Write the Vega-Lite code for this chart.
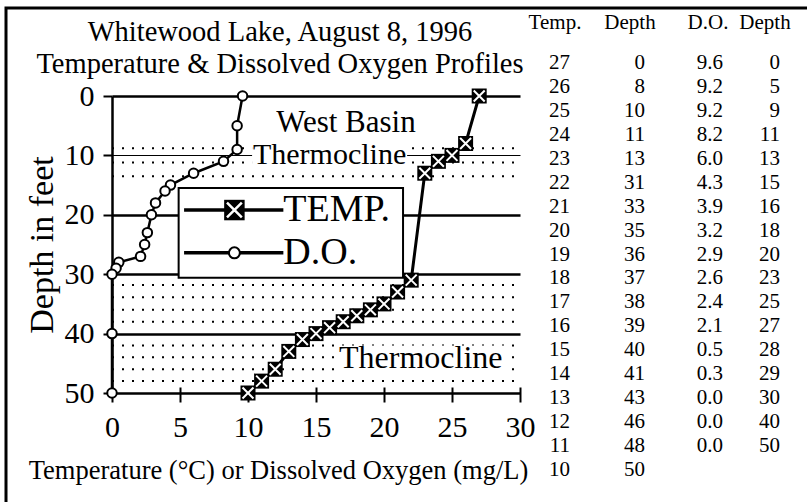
{
  "$schema": "https://vega.github.io/schema/vega-lite/v6.json",
  "width": 811,
  "height": 504,
  "autosize": {"type": "none"},
  "padding": {"left": 6, "top": 8, "right": -10, "bottom": -10},
  "background": "white",
  "config": {
    "view": {"stroke": "black", "strokeWidth": 3},
    "font": "Liberation Serif",
    "text": {"font": "Liberation Serif", "color": "black"},
    "axis": {"labelFont": "Liberation Serif", "titleFont": "Liberation Serif", "labelColor": "black", "titleColor": "black", "titleFontWeight": "normal"},
    "title": {"font": "Liberation Serif", "color": "black", "fontWeight": "normal"}
  },
  "title": {
    "text": ["Whitewood Lake, August 8, 1996", "Temperature & Dissolved Oxygen Profiles"],
    "anchor": "start", "align": "center", "frame": "group", "dx": 274, "offset": 0,
    "baseline": "top", "dy": 70, "fontSize": 28.5, "lineHeight": 32
  },
  "datasets": {
    "temp": [
      {"temp": 27, "depth": 0}, {"temp": 26, "depth": 8}, {"temp": 25, "depth": 10},
      {"temp": 24, "depth": 11}, {"temp": 23, "depth": 13}, {"temp": 22, "depth": 31},
      {"temp": 21, "depth": 33}, {"temp": 20, "depth": 35}, {"temp": 19, "depth": 36},
      {"temp": 18, "depth": 37}, {"temp": 17, "depth": 38}, {"temp": 16, "depth": 39},
      {"temp": 15, "depth": 40}, {"temp": 14, "depth": 41}, {"temp": 13, "depth": 43},
      {"temp": 12, "depth": 46}, {"temp": 11, "depth": 48}, {"temp": 10, "depth": 50}
    ],
    "do": [
      {"do": 9.6, "depth": 0}, {"do": 9.2, "depth": 5}, {"do": 9.2, "depth": 9},
      {"do": 8.2, "depth": 11}, {"do": 6.0, "depth": 13}, {"do": 4.3, "depth": 15},
      {"do": 3.9, "depth": 16}, {"do": 3.2, "depth": 18}, {"do": 2.9, "depth": 20},
      {"do": 2.6, "depth": 23}, {"do": 2.4, "depth": 25}, {"do": 2.1, "depth": 27},
      {"do": 0.5, "depth": 28}, {"do": 0.3, "depth": 29}, {"do": 0.0, "depth": 30},
      {"do": 0.0, "depth": 40}, {"do": 0.0, "depth": 50}
    ],
    "dots": [
      {"depth": 8.8}, {"depth": 11.2}, {"depth": 13.5},
      {"depth": 31.8}, {"depth": 33.9}, {"depth": 36.0}, {"depth": 38.0},
      {"depth": 42.0}, {"depth": 44.0}, {"depth": 46.0}, {"depth": 48.0}
    ],
    "headers": [
      {"h": "Temp.", "c": 1}, {"h": "Depth", "c": 2}, {"h": "D.O.", "c": 3}, {"h": "Depth", "c": 4}
    ]
  },
  "layer": [
    {
      "layer": [
        {
          "data": {"name": "dots"},
          "mark": {"type": "rule", "color": "black", "strokeWidth": 2, "strokeDash": [2, 8], "strokeCap": "butt"},
          "encoding": {
            "x": {
              "datum": 0, "type": "quantitative",
              "scale": {"domain": [0, 30], "range": [106, 514], "nice": false, "zero": false},
              "axis": {
                "orient": "bottom", "offset": -125, "values": [0, 5, 10, 15, 20, 25, 30],
                "domain": false, "tickColor": "black", "tickSize": 15, "tickWidth": 2,
                "labelFontSize": 30, "labelPadding": 10, "labelFlush": false, "labelOverlap": false, "grid": false,
                "title": "Temperature (°C) or Dissolved Oxygen (mg/L)", "titleFontSize": 26.5,
                "titleX": 272, "titleY": 83, "titleAlign": "center", "titleBaseline": "middle"
              }
            },
            "x2": {"datum": 30},
            "y": {
              "field": "depth", "type": "quantitative",
              "scale": {"domain": [0, 50], "range": [88, 385], "nice": false, "zero": false},
              "axis": {
                "orient": "left", "offset": -106, "values": [0, 10, 20, 30, 40, 50],
                "domainColor": "black", "domainWidth": 2.5, "tickColor": "black", "tickSize": 9, "tickWidth": 2,
                "labelFontSize": 30, "labelPadding": 9, "labelFlush": false, "labelOverlap": false,
                "grid": true, "gridColor": "black", "gridOpacity": 1,
                "gridWidth": {"condition": {"test": "datum.value === 10", "value": 1}, "value": 2.5},
                "title": "Depth in feet", "titleFontSize": 34, "titlePadding": 5
              }
            }
          }
        },
        {
          "data": {"values": [{}]},
          "mark": {"type": "rect", "fill": "white"},
          "encoding": {
            "x": {"datum": 10.3, "type": "quantitative"}, "x2": {"datum": 21.7},
            "y": {"datum": 7.6, "type": "quantitative"}, "y2": {"datum": 12.6}
          }
        },
        {
          "data": {"values": [{}]},
          "mark": {"type": "rect", "fill": "white"},
          "encoding": {
            "x": {"datum": 16.4, "type": "quantitative"}, "x2": {"datum": 29.0},
            "y": {"datum": 42.0, "type": "quantitative"}, "y2": {"datum": 46.4}
          }
        },
        {
          "data": {"values": [{}]},
          "mark": {"type": "text", "text": "West Basin", "fontSize": 31, "align": "center", "baseline": "middle"},
          "encoding": {"x": {"datum": 17.2, "type": "quantitative"}, "y": {"datum": 4.5, "type": "quantitative"}}
        },
        {
          "data": {"values": [{}]},
          "mark": {"type": "text", "text": "Thermocline", "fontSize": 30, "align": "center", "baseline": "middle"},
          "encoding": {"x": {"datum": 16.0, "type": "quantitative"}, "y": {"datum": 9.9, "type": "quantitative"}}
        },
        {
          "data": {"values": [{}]},
          "mark": {"type": "text", "text": "Thermocline", "fontSize": 32, "align": "center", "baseline": "middle"},
          "encoding": {"x": {"datum": 22.7, "type": "quantitative"}, "y": {"datum": 44.1, "type": "quantitative"}}
        },
        {
          "data": {"name": "do"},
          "mark": {"type": "line", "color": "black", "strokeWidth": 2.5},
          "encoding": {
            "x": {"field": "do", "type": "quantitative"},
            "y": {"field": "depth", "type": "quantitative"},
            "order": {"field": "depth"}
          }
        },
        {
          "data": {"name": "do"},
          "mark": {"type": "point", "shape": "circle", "filled": true, "fill": "white", "stroke": "black", "strokeWidth": 2, "size": 90, "opacity": 1},
          "encoding": {
            "x": {"field": "do", "type": "quantitative"},
            "y": {"field": "depth", "type": "quantitative"}
          }
        },
        {
          "data": {"name": "temp"},
          "mark": {"type": "line", "color": "black", "strokeWidth": 3},
          "encoding": {
            "x": {"field": "temp", "type": "quantitative"},
            "y": {"field": "depth", "type": "quantitative"},
            "order": {"field": "depth"}
          }
        },
        {
          "data": {"name": "temp"},
          "mark": {"type": "square", "color": "black", "size": 225, "opacity": 1},
          "encoding": {
            "x": {"field": "temp", "type": "quantitative"},
            "y": {"field": "depth", "type": "quantitative"}
          }
        },
        {
          "data": {"name": "temp"},
          "mark": {"type": "point", "shape": "M-1,-1L1,1M1,-1L-1,1", "filled": false, "stroke": "white", "strokeWidth": 2, "size": 120, "opacity": 1},
          "encoding": {
            "x": {"field": "temp", "type": "quantitative"},
            "y": {"field": "depth", "type": "quantitative"}
          }
        },
        {
          "data": {"values": [{}]},
          "mark": {"type": "rect", "fill": "white", "stroke": "black", "strokeWidth": 2},
          "encoding": {
            "x": {"datum": 4.9, "type": "quantitative"}, "x2": {"datum": 21.4},
            "y": {"datum": 15.5, "type": "quantitative"}, "y2": {"datum": 30.6}
          }
        },
        {
          "data": {"values": [{}]},
          "mark": {"type": "rule", "color": "black", "strokeWidth": 3.5},
          "encoding": {
            "x": {"datum": 5.3, "type": "quantitative"}, "x2": {"datum": 12.6},
            "y": {"datum": 19.2, "type": "quantitative"}
          }
        },
        {
          "data": {"values": [{}]},
          "mark": {"type": "rule", "color": "black", "strokeWidth": 3.5},
          "encoding": {
            "x": {"datum": 5.3, "type": "quantitative"}, "x2": {"datum": 12.6},
            "y": {"datum": 26.4, "type": "quantitative"}
          }
        },
        {
          "data": {"values": [{}]},
          "mark": {"type": "square", "color": "black", "size": 420, "opacity": 1},
          "encoding": {"x": {"datum": 9, "type": "quantitative"}, "y": {"datum": 19.2, "type": "quantitative"}}
        },
        {
          "data": {"values": [{}]},
          "mark": {"type": "point", "shape": "M-1,-1L1,1M1,-1L-1,1", "filled": false, "stroke": "white", "strokeWidth": 2.5, "size": 220, "opacity": 1},
          "encoding": {"x": {"datum": 9, "type": "quantitative"}, "y": {"datum": 19.2, "type": "quantitative"}}
        },
        {
          "data": {"values": [{}]},
          "mark": {"type": "point", "shape": "circle", "filled": true, "fill": "white", "stroke": "black", "strokeWidth": 2, "size": 120, "opacity": 1},
          "encoding": {"x": {"datum": 9, "type": "quantitative"}, "y": {"datum": 26.4, "type": "quantitative"}}
        },
        {
          "data": {"values": [{}]},
          "mark": {"type": "text", "text": "TEMP.", "fontSize": 38, "align": "left", "baseline": "middle"},
          "encoding": {"x": {"datum": 12.6, "type": "quantitative"}, "y": {"datum": 19.2, "type": "quantitative"}}
        },
        {
          "data": {"values": [{}]},
          "mark": {"type": "text", "text": "D.O.", "fontSize": 38, "align": "left", "baseline": "middle"},
          "encoding": {"x": {"datum": 12.6, "type": "quantitative"}, "y": {"datum": 26.4, "type": "quantitative"}}
        }
      ]
    },
    {
      "layer": [
        {
          "data": {"name": "headers"},
          "mark": {"type": "text", "fontSize": 21, "align": "center", "baseline": "middle", "dx": -15},
          "encoding": {
            "x": {"field": "c", "type": "quantitative", "scale": {"domain": [1, 2, 3, 4], "range": [564, 639, 717, 774], "nice": false, "zero": false}, "axis": null},
            "y": {"datum": 0, "type": "quantitative", "scale": {"domain": [0, 1, 18], "range": [15, 55, 462], "nice": false, "zero": false}, "axis": null},
            "text": {"field": "h"}
          }
        },
        {
          "data": {"name": "temp"},
          "transform": [{"window": [{"op": "row_number", "as": "i"}]}],
          "mark": {"type": "text", "fontSize": 21, "align": "right", "baseline": "middle"},
          "encoding": {
            "x": {"datum": 1, "type": "quantitative"},
            "y": {"field": "i", "type": "quantitative"},
            "text": {"field": "temp"}
          }
        },
        {
          "data": {"name": "temp"},
          "transform": [{"window": [{"op": "row_number", "as": "i"}]}],
          "mark": {"type": "text", "fontSize": 21, "align": "right", "baseline": "middle"},
          "encoding": {
            "x": {"datum": 2, "type": "quantitative"},
            "y": {"field": "i", "type": "quantitative"},
            "text": {"field": "depth"}
          }
        },
        {
          "data": {"name": "do"},
          "transform": [{"window": [{"op": "row_number", "as": "i"}]}],
          "mark": {"type": "text", "fontSize": 21, "align": "right", "baseline": "middle"},
          "encoding": {
            "x": {"datum": 3, "type": "quantitative"},
            "y": {"field": "i", "type": "quantitative"},
            "text": {"field": "do", "format": ".1f"}
          }
        },
        {
          "data": {"name": "do"},
          "transform": [{"window": [{"op": "row_number", "as": "i"}]}],
          "mark": {"type": "text", "fontSize": 21, "align": "right", "baseline": "middle"},
          "encoding": {
            "x": {"datum": 4, "type": "quantitative"},
            "y": {"field": "i", "type": "quantitative"},
            "text": {"field": "depth"}
          }
        }
      ]
    }
  ],
  "resolve": {"scale": {"x": "independent", "y": "independent"}}
}
